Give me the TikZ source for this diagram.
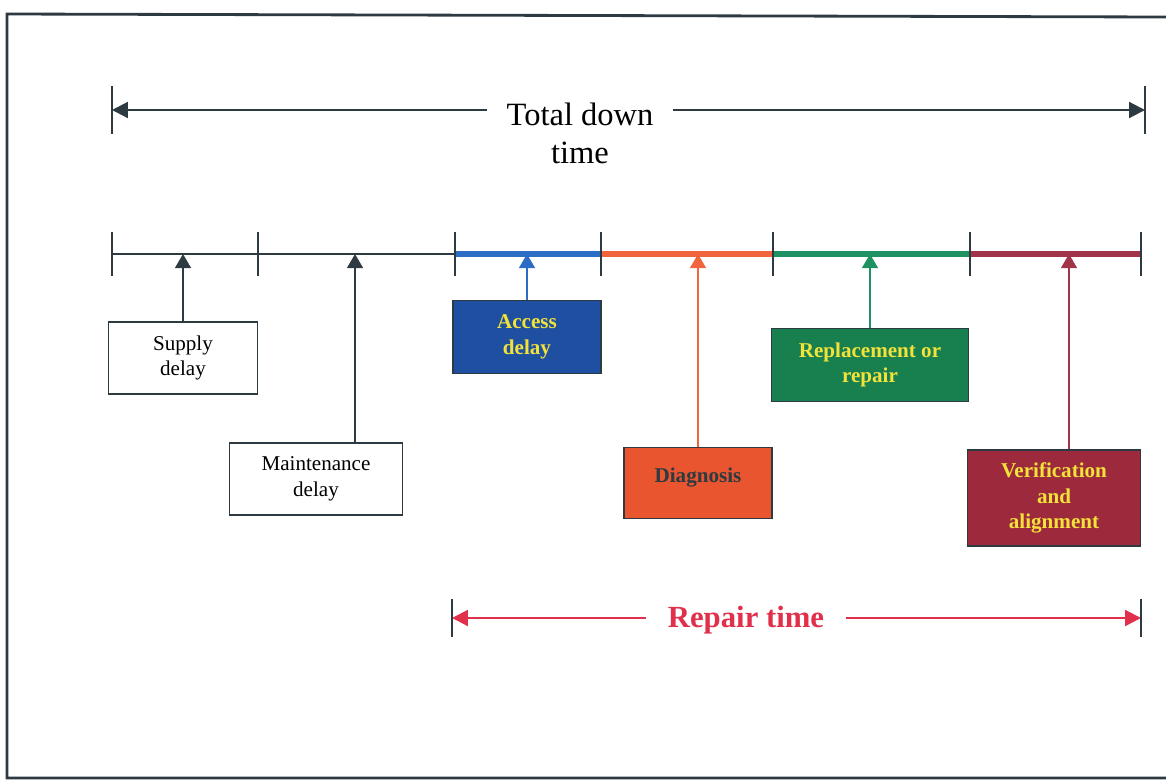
\documentclass[tikz,border=0pt]{standalone}
\usepackage{fontspec}
\setmainfont{Liberation Serif}
\usetikzlibrary{arrows.meta}

\definecolor{ink}{HTML}{2E3A42}
\definecolor{accblue}{HTML}{1F4FA0}
\definecolor{acclineblue}{HTML}{2C6CC4}
\definecolor{diagorange}{HTML}{E8552E}
\definecolor{diagline}{HTML}{F0653E}
\definecolor{repgreen}{HTML}{18804F}
\definecolor{repline}{HTML}{1E9262}
\definecolor{vermaroon}{HTML}{9C2A3C}
\definecolor{verline}{HTML}{A23449}
\definecolor{labelyellow}{HTML}{F2E23A}
\definecolor{repairred}{HTML}{E0304C}

\tikzset{
  thinline/.style={line width=1.1pt, draw=ink},
  tickmark/.style={line width=1.3pt, draw=ink},
  seg/.style={line width=3.6pt},
  uparrow/.style={line width=1.1pt, -{Triangle[width=9pt,length=8pt]}},
  sidearrow/.style={line width=1.2pt, -{Triangle[width=9pt,length=9pt]}},
  plainbox/.style={draw=ink, line width=1pt, fill=white, align=center,
    font=\fontsize{12}{14.5}\selectfont, inner sep=0pt},
  colourbox/.style={draw=ink, line width=1pt, align=center,
    font=\fontsize{12}{14.5}\selectfont\bfseries, text=labelyellow, inner sep=0pt},
}

\begin{document}
\begin{tikzpicture}[x=0.02cm, y=-0.02cm]
\useasboundingbox (0,0) rectangle (1166,782);

% page frame
\draw[line width=1.6pt, draw=ink] (1166,17) -- (7,14) -- (7,778) -- (1166,778);

% ---- total down time ----
\coordinate (tdL) at (112,110);
\coordinate (tdR) at (1145,110);
\node[font=\fontsize{18.5}{21.5}\selectfont, align=center, inner xsep=11pt, inner ysep=0pt]
  (total) at (580,133) {Total down\\time};
\draw[sidearrow, draw=ink, fill=ink] (total.west |- tdL) -- (tdL);
\draw[sidearrow, draw=ink, fill=ink] (total.east |- tdR) -- (tdR);
\draw[tickmark] (tdL) ++(0,-24) -- ++(0,48);
\draw[tickmark] (tdR) ++(0,-24) -- ++(0,48);

% ---- time line ----
\coordinate (t0) at (112,254);
\coordinate (t1) at (258,254);
\coordinate (t2) at (455,254);
\coordinate (t3) at (601,254);
\coordinate (t4) at (773,254);
\coordinate (t5) at (970,254);
\coordinate (t6) at (1141,254);

\draw[thinline] (t0) -- (t2);
\draw[seg, draw=acclineblue] (t2) -- (t3);
\draw[seg, draw=diagline] (t3) -- (t4);
\draw[seg, draw=repline] (t4) -- (t5);
\draw[seg, draw=verline] (t5) -- (t6);
\foreach \t in {t0,t1,t2,t3,t4,t5,t6}
  \draw[tickmark] (\t) ++(0,-22) -- ++(0,44);

% ---- boxes ----
\node[plainbox, minimum width=2.98cm, minimum height=1.44cm]
  (sup) at (183,358) {Supply\\delay};
\node[plainbox, minimum width=3.46cm, minimum height=1.44cm]
  (mnt) at (316,479) {Maintenance\\delay};
\node[colourbox, fill=accblue, minimum width=2.96cm, minimum height=1.46cm]
  (acc) at (527,337) {Access\\delay};
\node[colourbox, fill=diagorange, text=ink, minimum width=2.96cm, minimum height=1.42cm]
  (dia) at (698,483) {\raisebox{9pt}{Diagnosis}};
\node[colourbox, fill=repgreen, minimum width=3.94cm, minimum height=1.46cm]
  (rep) at (870,365) {Replacement or\\repair};
\node[colourbox, fill=vermaroon, minimum width=3.46cm, minimum height=1.92cm]
  (ver) at (1054,498) {Verification\\and\\alignment};

% ---- pointers to the time line ----
\draw[uparrow, draw=ink, fill=ink] (sup.north) -- (sup.north |- t0);
\draw[uparrow, draw=ink, fill=ink] (mnt.north -| 355,0) -- (355,254);
\draw[uparrow, draw=acclineblue, fill=acclineblue] (acc.north) -- (acc.north |- t0);
\draw[uparrow, draw=diagline, fill=diagline] (dia.north) -- (dia.north |- t0);
\draw[uparrow, draw=repline, fill=repline] (rep.north) -- (rep.north |- t0);
\draw[uparrow, draw=verline, fill=verline] (ver.north -| 1069,0) -- (1069,254);

% ---- repair time ----
\coordinate (rtL) at (452,618);
\coordinate (rtR) at (1141,618);
\node[font=\fontsize{17.5}{20}\selectfont\bfseries, text=repairred, inner xsep=12pt]
  (rt) at (746,620) {Repair time};
\draw[sidearrow, draw=repairred, fill=repairred] (rt.west |- rtL) -- (rtL);
\draw[sidearrow, draw=repairred, fill=repairred] (rt.east |- rtR) -- (rtR);
\draw[tickmark] (rtL) ++(0,-19) -- ++(0,38);
\draw[tickmark] (rtR) ++(0,-19) -- ++(0,38);
\end{tikzpicture}
\end{document}
